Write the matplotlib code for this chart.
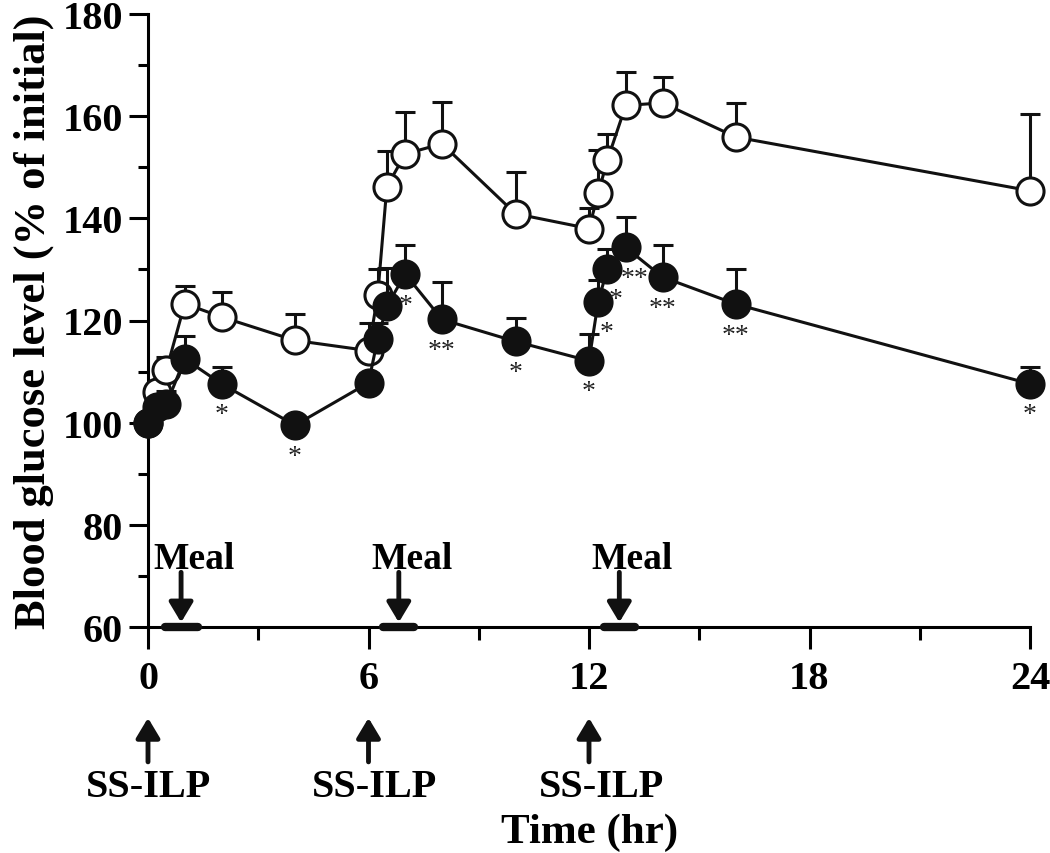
import numpy as np
import matplotlib.pyplot as plt
from matplotlib.ticker import MultipleLocator

plt.rcParams["font.family"] = "Liberation Serif"
plt.rcParams["font.weight"] = "bold"

# time points (hr)
t = [0, 0.25, 0.5, 1, 2, 4, 6, 6.25, 6.5, 7, 8, 10, 12, 12.25, 12.5, 13, 14, 16, 24]

# control (open circles)
ctrl = [100, 106.0, 110.3, 123.3, 120.7, 116.1, 114.1, 124.9, 146.2, 152.6, 154.6,
        140.9, 138.0, 144.9, 151.4, 162.1, 162.6, 155.9, 145.4]
ctrl_err = [0, 1.5, 2.5, 3.4, 4.8, 5.1, 5.5, 5.2, 7.0, 8.3, 8.2,
            8.1, 4.0, 8.4, 5.2, 6.5, 5.0, 6.6, 15.0]

# SS-ILP (filled circles)
ilp = [100, 103.0, 103.6, 112.5, 107.6, 99.5, 107.8, 116.4, 122.8, 129.1, 120.2,
       115.9, 112.1, 123.7, 130.1, 134.3, 128.5, 123.2, 107.6]
ilp_err = [0, 1.0, 2.6, 4.4, 3.3, 1.5, 2.0, 3.2, 7.4, 5.6, 7.4,
           4.5, 5.2, 4.3, 3.8, 6.0, 6.3, 6.8, 3.3]
stars = ["", "", "", "", "*", "*", "", "", "", "*", "**",
         "*", "*", "*", "*", "**", "**", "**", "*"]

dose_times = [0, 6, 12]
meal_start = [0.45, 6.4, 12.4]
meal_end = [1.35, 7.25, 13.25]

fig = plt.figure(figsize=(10.5, 8.54), dpi=100)
ax = fig.add_axes([148/1050, 226/854, 882/1050, 613/854])

lw = 2.2
ax.errorbar(t, ctrl, yerr=[np.zeros(len(ctrl_err)), ctrl_err], fmt="none",
            ecolor="#111111", elinewidth=lw, capsize=7.5, capthick=lw, zorder=2,
            clip_on=False)
ax.plot(t, ctrl, "-o", color="#111111", lw=lw, ms=19.5, mfc="white",
        mec="#111111", mew=2.2, zorder=3, clip_on=False)
ax.errorbar(t, ilp, yerr=[np.zeros(len(ilp_err)), ilp_err], fmt="none",
            ecolor="#111111", elinewidth=lw, capsize=7.5, capthick=lw, zorder=4,
            clip_on=False)
ax.plot(t, ilp, "-o", color="#111111", lw=lw, ms=19.5, mfc="#111111",
        mec="#111111", mew=2.2, zorder=5, clip_on=False)

# significance marks
for i, s in enumerate(stars):
    if not s:
        continue
    dx = 6 if t[i] in (12.25, 12.5, 13) else 0
    ax.annotate(s, (t[i], ilp[i]), xytext=(dx, -27), textcoords="offset points",
                ha="center", va="baseline", fontsize=20, fontweight="normal",
                color="#222222", zorder=6)

# meal bars and arrows
for a, b in zip(meal_start, meal_end):
    ax.plot([a, b], [60, 60], color="#111111", lw=6, solid_capstyle="round",
            clip_on=False, zorder=6)
    mid = (a + b) / 2
    ax.annotate("", xy=(mid, 60.9), xytext=(mid, 70.7),
                arrowprops=dict(arrowstyle="-|>,head_length=0.6,head_width=0.36",
                                mutation_scale=20, lw=3.5, color="#111111",
                                shrinkA=0, shrinkB=0), annotation_clip=False)
    ax.text(mid + 0.35, 71.5, "Meal", ha="center", va="baseline", fontsize=27,
            fontweight="bold")

# dosing arrows below axis
for i, d in enumerate(dose_times):
    ax.annotate("", xy=(d, 42.2), xytext=(d, 33.6),
                arrowprops=dict(arrowstyle="-|>,head_length=0.6,head_width=0.36",
                                mutation_scale=20, lw=3.5, color="#111111",
                                shrinkA=0, shrinkB=0), annotation_clip=False)
    ax.text(d + 0.17 * i, 27.0, "SS-ILP", ha="center", va="baseline",
            fontsize=29, fontweight="bold", clip_on=False)

ax.set_xlim(0, 24)
ax.set_ylim(60, 180)
ax.set_xticks([0, 6, 12, 18, 24])
ax.xaxis.set_minor_locator(MultipleLocator(3))
ax.yaxis.set_major_locator(MultipleLocator(20))
ax.yaxis.set_minor_locator(MultipleLocator(10))

for side in ["top", "right"]:
    ax.spines[side].set_visible(False)
for side in ["left", "bottom"]:
    ax.spines[side].set_linewidth(lw)

ax.tick_params(axis="x", which="major", length=16, width=lw, labelsize=29, pad=8)
ax.tick_params(axis="x", which="minor", length=9, width=lw)
ax.tick_params(axis="y", which="major", length=14, width=lw, labelsize=29, pad=4)
ax.tick_params(axis="y", which="minor", length=7, width=lw)

fig.text(590/1050, 11/854, "Time (hr)", ha="center", va="baseline", fontsize=31,
         fontweight="bold")
ax.set_ylabel("Blood glucose level (% of initial)", fontsize=32,
              fontweight="bold", labelpad=6)

fig.savefig("out.png", dpi=100)
